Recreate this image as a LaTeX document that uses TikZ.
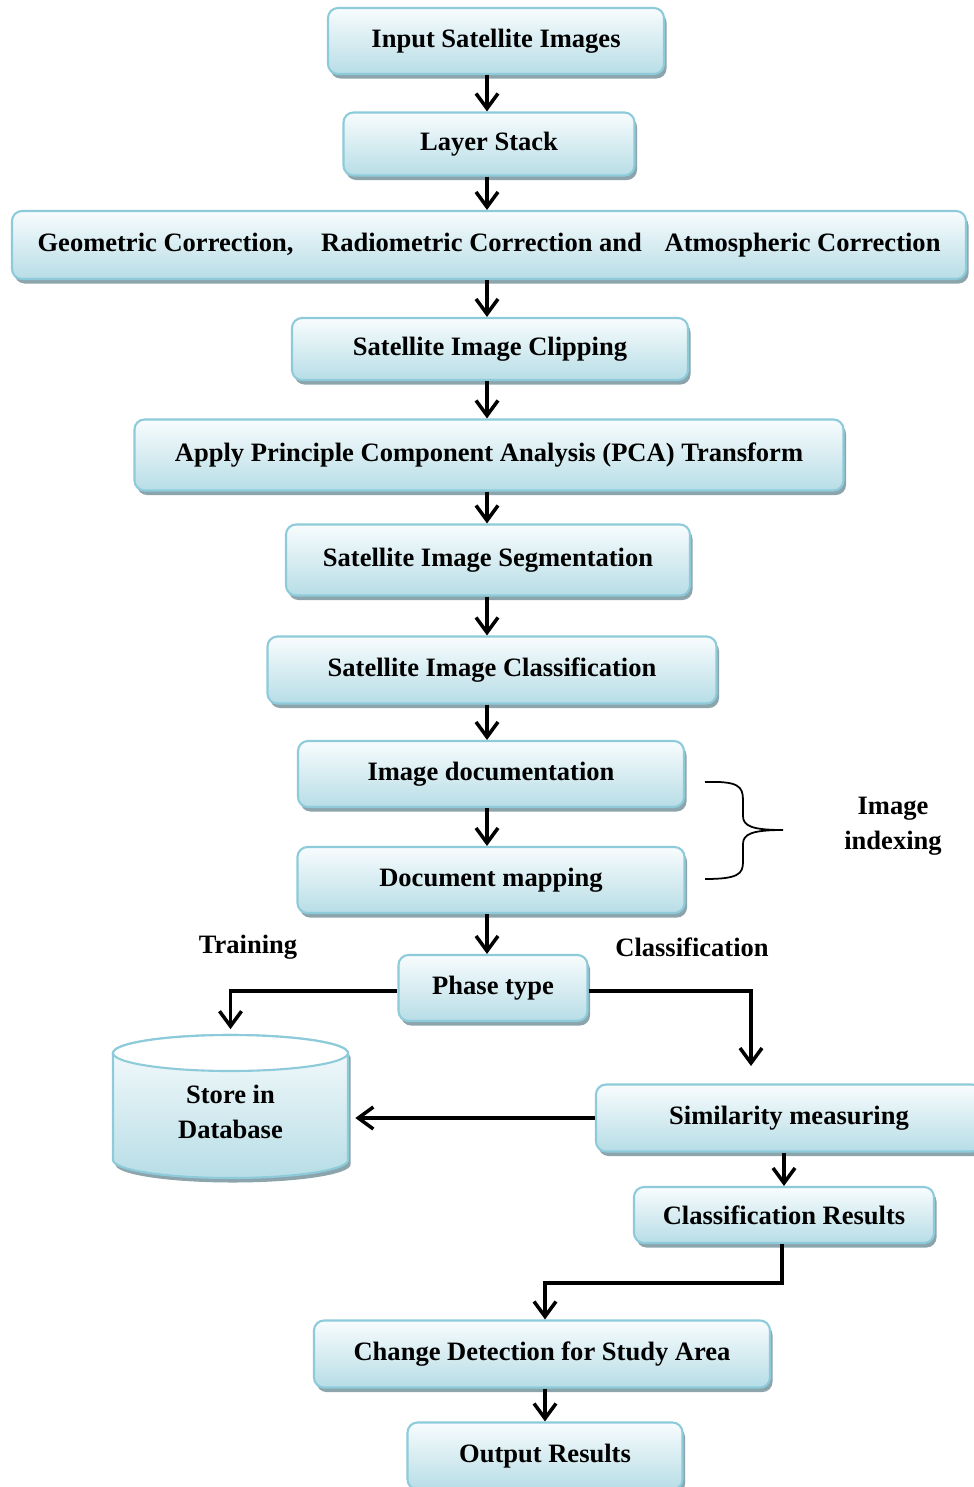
\documentclass[tikz,border=0pt]{standalone}
\usepackage{fontspec}
\setmainfont{Liberation Serif}
\usetikzlibrary{arrows.meta,positioning,calc,shadows}
\definecolor{boxline}{RGB}{141,203,218}
\definecolor{boxtop}{RGB}{248,252,253}
\definecolor{boxbot}{RGB}{183,221,230}
\definecolor{boxshadow}{RGB}{140,164,172}

\begin{document}
\begin{tikzpicture}[x=0.2mm, y=-0.2mm,
    box/.style={draw=boxline, line width=1.2pt, rounded corners=2mm,
      top color=boxtop, bottom color=boxbot,
      drop shadow={shadow xshift=0.5mm, shadow yshift=-0.9mm, fill=boxshadow, opacity=1},
      inner sep=0pt, font=\bfseries\fontsize{15.1}{20}\selectfont, align=center},
    lbl/.style={font=\bfseries\fontsize{15.1}{20}\selectfont, align=center},
    arr/.style={-{Straight Barb[length=3mm,width=4.4mm]}, line width=2pt}]
  \useasboundingbox (0,0) rectangle (974,1487);
  % main chain
  \node[box, minimum width=67.2mm, minimum height=13.2mm] (inp)   at (496,41)  {Input Satellite Images};
  \node[box, minimum width=58.2mm, minimum height=12.6mm] (stack) at (489,144) {Layer Stack};
  \node[box, minimum width=190.8mm, minimum height=13.6mm] (corr) at (489,245)
    {Geometric Correction,\hspace{4.2mm} Radiometric Correction and\hspace{3.2mm} Atmospheric Correction};
  \node[box, minimum width=79.2mm, minimum height=12.4mm] (clip)  at (490,349) {Satellite Image Clipping};
  \node[box, minimum width=141.8mm, minimum height=14.2mm] (pca)  at (489,455) {Apply Principle Component Analysis (PCA) Transform};
  \node[box, minimum width=80.8mm, minimum height=14.2mm] (seg)   at (488,560) {Satellite Image Segmentation};
  \node[box, minimum width=89.8mm, minimum height=13.4mm] (cls)   at (492,670) {Satellite Image Classification};
  \node[box, minimum width=77.2mm, minimum height=13.2mm] (doc)   at (491,774) {Image documentation};
  \node[box, minimum width=77.4mm, minimum height=13.2mm] (map)   at (491,880) {Document mapping};
  \node[box, minimum width=37.8mm, minimum height=13.2mm] (phase) at (493,988) {Phase type};
  \node[box, minimum width=77.2mm, minimum height=13.4mm] (sim)   at (789,1118) {Similarity measuring};
  \node[box, minimum width=60mm, minimum height=11.2mm]   (cres)  at (784,1215) {Classification Results};
  \node[box, minimum width=91.2mm, minimum height=13.4mm] (chg)   at (542,1354) {Change Detection for Study Area};
  \node[box, minimum width=55mm, minimum height=13.4mm]   (outp)  at (545,1456) {Output Results};
  % database cylinder
  \fill[boxshadow, xshift=0.5mm, yshift=-0.9mm] (113,1053) -- (113,1160)
    arc[start angle=180, end angle=360, x radius=23.5mm, y radius=3.6mm] -- (348,1053)
    arc[start angle=0, end angle=180, x radius=23.5mm, y radius=3.6mm] -- cycle;
  \shade[top color=boxtop, bottom color=boxbot, draw=boxline, line width=1.2pt] (113,1053) -- (113,1160)
    arc[start angle=180, end angle=360, x radius=23.5mm, y radius=3.6mm] -- (348,1053)
    arc[start angle=0, end angle=180, x radius=23.5mm, y radius=3.6mm] -- cycle;
  \filldraw[fill=white, draw=boxline, line width=1.2pt] (230.5,1053) ellipse[x radius=23.5mm, y radius=3.6mm];
  \node[lbl, minimum width=47mm, minimum height=29mm] (db) at (230.5,1112) {Store in\\Database};
  % labels
  \node[lbl] (train) at (248,947) {Training};
  \node[lbl] (clsf)  at (692,947) {Classification};
  \node[lbl] (idx)   at (893,826) {Image\\indexing};
  % connectors
  \coordinate (ax) at (487,0);
  \foreach \a/\b in {inp/stack,stack/corr,corr/clip,clip/pca,pca/seg,seg/cls,cls/doc,doc/map,map/phase}
    \draw[arr] (\a.south -| ax) -- (\b.north -| ax);
  \coordinate (simin) at (751,1066);
  \coordinate (bend)  at (782,1283);
  \draw[arr, shorten >=2mm] ([yshift=-0.6mm]phase.west) -| (db.north);
  \draw[arr] ([yshift=-0.6mm]phase.east) -| (simin);
  \draw[arr, shorten >=1.4mm] (sim.west) -- (sim.west -| db.east);
  \draw[arr] (sim.south -| cres.north) -- (cres.north);
  \draw[arr] (cres.south -| bend) -- (bend) -| (chg.north -| outp.north);
  \draw[arr] (chg.south -| outp.north) -- (outp.north);
  % brace
  \draw[line width=1pt] (705,782) .. controls (738,781) and (743,786) .. (743,800) -- (743,816)
    .. controls (743,826) and (752,830) .. (783,830)
    .. controls (752,830) and (743,834) .. (743,844) -- (743,862)
    .. controls (743,874) and (738,879) .. (705,879);
\end{tikzpicture}
\end{document}
